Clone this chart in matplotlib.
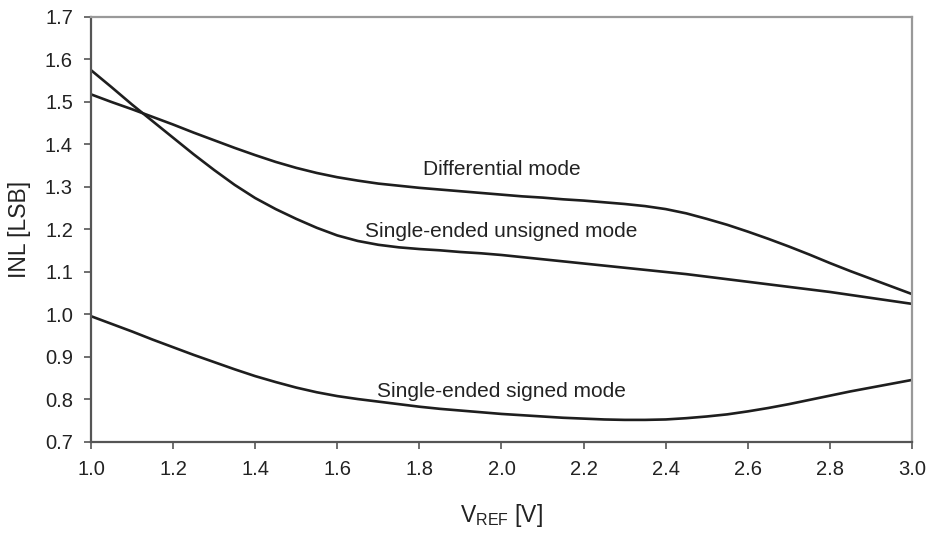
import matplotlib
matplotlib.use("Agg")
import matplotlib.pyplot as plt

plt.rcParams['font.family'] = ['Liberation Sans', 'DejaVu Sans']
plt.rcParams['mathtext.fontset'] = 'custom'
plt.rcParams['mathtext.rm'] = 'Liberation Sans'

vref = [1.00, 1.05, 1.10, 1.15, 1.20, 1.25, 1.30, 1.35, 1.40, 1.45, 1.50,
        1.55, 1.60, 1.65, 1.70, 1.75, 1.80, 1.85, 1.90, 1.95, 2.00,
        2.05, 2.10, 2.15, 2.20, 2.25, 2.30, 2.35, 2.40, 2.45, 2.50,
        2.55, 2.60, 2.65, 2.70, 2.75, 2.80, 2.85, 2.90, 2.95, 3.00]
differential = [1.518, 1.500, 1.483, 1.465, 1.447, 1.428, 1.410, 1.392, 1.375, 1.359, 1.345,
                1.333, 1.323, 1.315, 1.308, 1.303, 1.298, 1.294, 1.290, 1.286, 1.282,
                1.278, 1.275, 1.271, 1.268, 1.264, 1.260, 1.255, 1.248, 1.238, 1.225,
                1.211, 1.195, 1.178, 1.160, 1.141, 1.121, 1.102, 1.084, 1.066, 1.048]
unsigned = [1.575, 1.535, 1.494, 1.455, 1.416, 1.377, 1.340, 1.305, 1.274, 1.248, 1.225,
            1.204, 1.186, 1.173, 1.164, 1.158, 1.154, 1.151, 1.147, 1.144, 1.140,
            1.135, 1.130, 1.125, 1.120, 1.115, 1.110, 1.105, 1.100, 1.095, 1.089,
            1.083, 1.077, 1.071, 1.065, 1.059, 1.053, 1.046, 1.039, 1.032, 1.025]
signed = [0.996, 0.978, 0.960, 0.941, 0.923, 0.905, 0.888, 0.871, 0.855, 0.841, 0.828,
          0.817, 0.808, 0.801, 0.795, 0.789, 0.783, 0.778, 0.774, 0.770, 0.766,
          0.763, 0.760, 0.757, 0.755, 0.753, 0.752, 0.752, 0.753, 0.756, 0.760,
          0.765, 0.772, 0.780, 0.789, 0.799, 0.809, 0.819, 0.828, 0.837, 0.846]

xticks = [1.0, 1.2, 1.4, 1.6, 1.8, 2.0, 2.2, 2.4, 2.6, 2.8, 3.0]
yticks = [0.7, 0.8, 0.9, 1.0, 1.1, 1.2, 1.3, 1.4, 1.5, 1.6, 1.7]

fig = plt.figure(figsize=(9.31, 5.36), dpi=100)
ax = fig.add_axes([0.0977, 0.1754, 0.8819, 0.7929])

lc = '#1e1e1e'
ax.plot(vref, differential, color=lc, lw=1.9)
ax.plot(vref, unsigned, color=lc, lw=1.9)
ax.plot(vref, signed, color=lc, lw=1.9)

tc = '#222222'
ax.text(2.0, 1.34, 'Differential mode', ha='center', va='center', fontsize=15, color=tc)
ax.text(2.0, 1.195, 'Single-ended unsigned mode', ha='center', va='center', fontsize=15, color=tc)
ax.text(2.0, 0.818, 'Single-ended signed mode', ha='center', va='center', fontsize=15, color=tc)

ax.set_xlim(1.0, 3.0)
ax.set_ylim(0.7, 1.7)
ax.set_xticks(xticks)
ax.set_yticks(yticks)
ax.set_xticklabels([f'{t:.1f}' for t in xticks])
ax.set_yticklabels([f'{t:.1f}' for t in yticks])
ax.tick_params(axis='both', direction='out', length=5, width=1.2, pad=8,
               labelsize=14.5, colors='#555555', labelcolor=tc)

for s in ['left', 'bottom']:
    ax.spines[s].set_color('#555555')
    ax.spines[s].set_linewidth(1.6)
for s in ['top', 'right']:
    ax.spines[s].set_color('#999999')
    ax.spines[s].set_linewidth(1.6)

ax.set_xlabel(r'V$_{\mathregular{REF}}$ [V]', fontsize=16.5, color=tc)
ax.set_ylabel('INL [LSB]', fontsize=16.5, color=tc)
ax.xaxis.set_label_coords(0.5, -0.141)
ax.yaxis.set_label_coords(-0.073, 0.5)

fig.savefig('out.png', dpi=100)
